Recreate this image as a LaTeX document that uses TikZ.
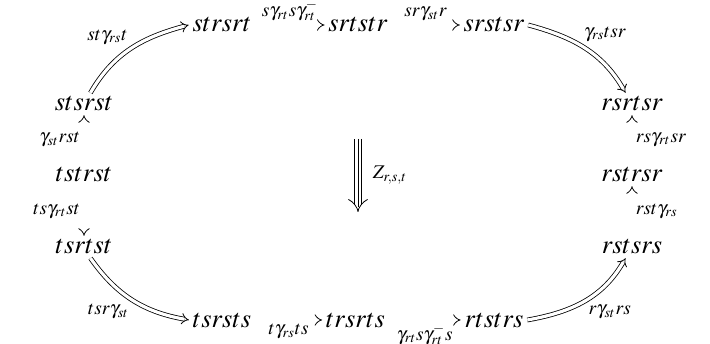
\documentclass[tikz,border=0pt]{standalone}
\usepackage{mathptmx}
\usetikzlibrary{arrows.meta}

\begin{document}
\begin{tikzpicture}[
   word/.style={font=\fontsize{15}{17}\selectfont, inner sep=2pt},
   cell/.style={double, double distance=1.8pt, line width=.45pt, -{Implies}},
   lab/.style={font=\fontsize{11}{13}\selectfont, inner sep=2pt}]
  \useasboundingbox (-7.16,-3.38) rectangle (7.04,3.5);
  % the twelve words round the loop
  \foreach \nm/\x/\y in {strsrt/-2.72/3.0, srtstr/0/3.0, srstsr/2.72/3.0,
      stsrst/-5.48/1.42, tstrst/-5.48/0, tsrtst/-5.48/-1.44,
      rsrtsr/5.48/1.42, rstrsr/5.48/0, rstsrs/5.48/-1.44,
      tsrsts/-2.72/-2.9, trsrts/-0.05/-2.9, rtstrs/2.72/-2.9}{%
    \node[word] (\nm) at (\x,\y) {$\nm$};
  }
  % top row
  \draw[cell] (stsrst.60) to[out=60, in=195]
    node[lab, pos=.5, above left] {$st\gamma_{rs}t$} (strsrt.west);
  \draw[cell] (strsrt) -- node[lab, above] {$s\gamma_{rt}s\gamma^{-}_{rt}$} (srtstr);
  \draw[cell] (srtstr) -- node[lab, above] {$sr\gamma_{st}r$} (srstsr);
  \draw[cell] (srstsr.east) to[out=-15, in=120]
    node[lab, pos=.45, above right] {$\gamma_{rs}tsr$} (rsrtsr.120);
  % left column
  \draw[cell] (tstrst) -- node[lab, left] {$\gamma_{st}rst$} (stsrst);
  \draw[cell] (tstrst) -- node[lab, left] {$ts\gamma_{rt}st$} (tsrtst);
  % right column
  \draw[cell] (rstrsr) -- node[lab, right] {$rs\gamma_{rt}sr$} (rsrtsr);
  \draw[cell] (rstsrs) -- node[lab, right] {$rst\gamma_{rs}$} (rstrsr);
  % bottom row
  \draw[cell] (tsrtst.-60) to[out=-55, in=170]
    node[lab, pos=.5, below left] {$tsr\gamma_{st}$} (tsrsts.west);
  \draw[cell] (tsrsts) -- node[lab, below] {$t\gamma_{rs}ts$} (trsrts);
  \draw[cell] (trsrts) -- node[lab, below] {$\gamma_{rt}s\gamma^{-}_{rt}s$} (rtstrs);
  \draw[cell] (rtstrs.east) to[out=10, in=-120]
    node[lab, pos=.5, below right] {$r\gamma_{st}rs$} (rstsrs.-120);
  % the triple arrow in the middle
  \coordinate (ztop) at (0,0.72);
  \coordinate (zbot) at (0,-0.74);
  \draw[double, double distance=3.6pt, line width=.45pt, -{Implies}] (ztop) -- (zbot);
  \draw[line width=.45pt, shorten >=3pt] (ztop) -- (zbot);
  \node[lab, anchor=west] (zlab) at (0.22,0) {$Z_{r,s,t}$};
\end{tikzpicture}
\end{document}
